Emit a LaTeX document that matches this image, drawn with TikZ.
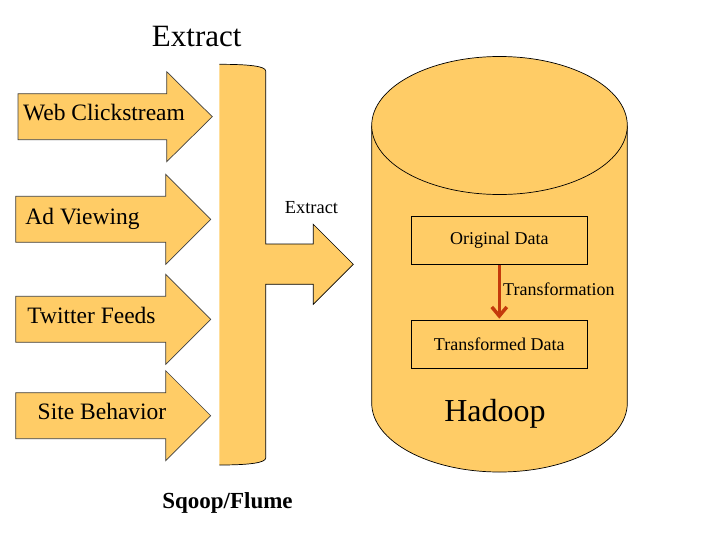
\documentclass[tikz,border=0pt]{standalone}
\usepackage{fontspec}
\setmainfont{Liberation Serif}
\usepackage{tikz}
\usetikzlibrary{arrows.meta}
\definecolor{hadoopfill}{RGB}{255,204,102}
\definecolor{transred}{RGB}{196,58,12}

\begin{document}
\begin{tikzpicture}
[x=1pt,y=-1pt,line join=miter,
  src arrow/.style={fill=hadoopfill,draw=black!75,line width=0.7pt},
  src label/.style={anchor=base,font=\rmfamily\fontsize{23.5}{26}\selectfont},
  data box/.style={draw=black,line width=0.7pt,minimum width=176.7pt,minimum height=48.3pt,font=\rmfamily\fontsize{18}{20}\selectfont}]
  \useasboundingbox (0,0) rectangle (707,536);

  % sources
  \foreach \y/\x/\h/\t in {116.7/18/166.7/212.3, 219.3/15.7/165.7/210.7,
      319.3/15.7/165.7/210.7, 415.7/15.7/165.7/210.7}
    \filldraw[src arrow] (\x,\y-23) -- (\h,\y-23) -- (\h,\y-45) -- (\t,\y)
      -- (\h,\y+45) -- (\h,\y+23) -- (\x,\y+23) -- cycle;

  \node[src label] (web) at (104,120.7) {Web Clickstream};
  \node[src label] (ad) at (82.5,224) {Ad Viewing};
  \node[src label] (twitter) at (91.5,323.3) {Twitter Feeds};
  \node[src label] (site) at (102,419.3) {Site Behavior};

  % sqoop/flume bar
  \fill[hadoopfill] (219.3,64.3) .. controls (248,64.3) and (265.7,66) .. (265.7,71)
    -- (265.7,244) -- (313.3,244) -- (313.3,224.3) -- (353.3,264.3) -- (313.3,304.3)
    -- (313.3,284.3) -- (265.7,284.3) -- (265.7,458)
    .. controls (265.7,463) and (248,465) .. (219.3,465) -- cycle;
  \draw[line width=0.7pt] (219.3,64.3) .. controls (248,64.3) and (265.7,66) .. (265.7,71)
    -- (265.7,244) -- (313.3,244) -- (313.3,224.3) -- (353.3,264.3) -- (313.3,304.3)
    -- (313.3,284.3) -- (265.7,284.3) -- (265.7,458)
    .. controls (265.7,463) and (248,465) .. (219.3,465);

  % hadoop
  \filldraw[fill=hadoopfill,draw=black,line width=0.7pt] (371.7,125.5) -- (371.7,403)
    arc[start angle=180,end angle=360,x radius=127.8pt,y radius=69pt] -- (627.3,125.5);
  \filldraw[fill=hadoopfill,draw=black,line width=0.7pt] (499.5,125.5) ellipse [x radius=127.8pt,y radius=69pt];

  \node[data box] (orig) at (499.3,240.2) {Original Data};
  \node[data box] (trans) at (499.3,344.2) {Transformed Data};
  \draw[transred,line width=3.5pt,shorten >=1pt,-{Straight Barb[length=9pt,width=15pt]}] (orig) -- (trans);

  \node[anchor=base west,inner sep=0pt,font=\rmfamily\fontsize{18}{20}\selectfont] (transform) at (503,295) {Transformation};
  \node[anchor=base,font=\rmfamily\fontsize{32}{36}\selectfont] (hadoop) at (495,421.7) {Hadoop};

  \node[anchor=base,font=\rmfamily\fontsize{31}{34}\selectfont] (title) at (196.7,46.7) {Extract};
  \node[anchor=base,font=\rmfamily\fontsize{18.4}{20}\selectfont] (extract) at (311.5,213.3) {Extract};
  \node[anchor=base,font=\rmfamily\bfseries\fontsize{23}{26}\selectfont] (sqoop) at (227.5,508) {Sqoop/Flume};

\end{tikzpicture}
\end{document}
